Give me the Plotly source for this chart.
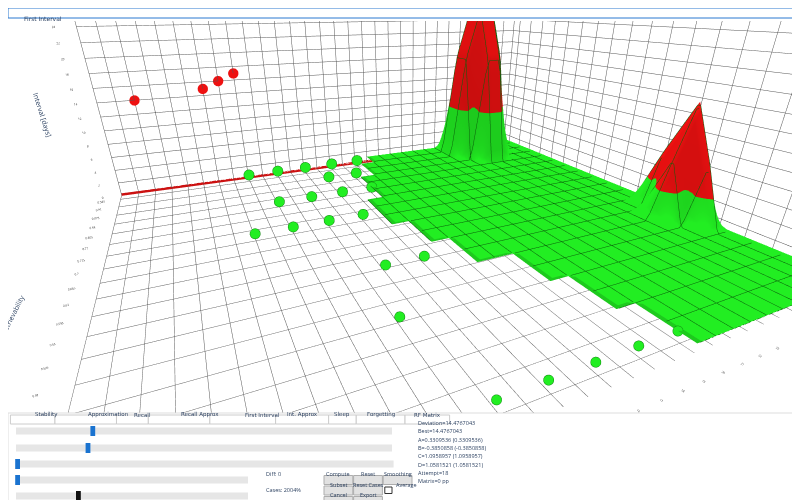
import plotly.graph_objects as go
import numpy as np

# ---- data ----
lapses = list(range(0, 31))
retr = [round(0.30 + 0.035*i, 3) for i in range(20)]
floor_level = 1.0
row_start = [20,20,19,19,18,18,16,16,15,15,14,14,14,14,15,15,15,16,16,17]
peak1 = [(25,17,25.8),(26,17,25.8),(25,18,25.8),(26,18,25.8),(24,17,18),(27,17,18),(25,16,18),(26,16,18),
         (25,19,18),(26,19,18),(24,18,18),(27,18,18)]
peak2 = [(29,6,16),(28,6,9),(30,6,9),(29,5,9),(29,7,9)]
pts_x = [8,10,12,14,16,9,11,13,15,7,9,11,13,4,6,8,10,12,14,16,18,20,12,14,13,15,11]
pts_y = [0.95,0.95,0.95,0.95,0.95,0.8,0.8,0.8,0.8,0.7,0.7,0.7,0.7,0.32,0.32,0.32,0.32,0.32,0.32,0.32,0.32,0.32,0.55,0.55,0.88,0.88,0.45]
pts_z = [1]*27
red_x = [2,6,7,8]
red_y = [0.965]*4
red_z = [14,15,16,17]

Z = np.full((len(retr), len(lapses)), np.nan)
for j, s in enumerate(row_start):
    for i in range(s, len(lapses)):
        Z[j, i] = floor_level
for i, j, z in peak1 + peak2:
    Z[j, i] = z
C = np.where(Z > 8, 1.0, 0.0)

fig = go.Figure()
fig.add_trace(go.Surface(x=lapses, y=retr, z=Z, surfacecolor=C, cmin=0, cmax=1,
    colorscale=[[0, "#22ee22"], [0.5, "#22ee22"], [0.5, "#ee1111"], [1, "#ee1111"]],
    showscale=False, lighting=dict(ambient=0.85, diffuse=0.4, specular=0),
    contours=dict(x=dict(show=True, color="#0a600a", width=1, start=0, end=30, size=1),
                  y=dict(show=True, color="#0a600a", width=1, start=0.3, end=0.965, size=0.035))))
fig.add_trace(go.Scatter3d(x=pts_x, y=pts_y, z=pts_z, mode="markers",
    marker=dict(size=6, color="#22ee22", line=dict(color="#118811", width=1))))
fig.add_trace(go.Scatter3d(x=red_x, y=red_y, z=red_z, mode="markers",
    marker=dict(size=6, color="#ee1111")))
fig.add_trace(go.Scatter3d(x=[0, 30, 30], y=[0.965, 0.965, 0.3], z=[0.1, 0.1, 0.1], mode="lines",
    line=dict(color="#cc1111", width=5)))

ax = dict(showbackground=False, gridcolor="#555", gridwidth=1, showline=False,
          tickfont=dict(size=6, color="#333"), zeroline=False, showspikes=False)
fig.update_layout(
    width=800, height=500, paper_bgcolor="white", margin=dict(l=0, r=0, t=0, b=0), showlegend=False,
    scene=dict(domain=dict(x=[0, 1], y=[0.19, 0.975]),
        xaxis=dict(ax, title=dict(text="Lapses", font=dict(size=7)), range=[0, 30], dtick=1),
        yaxis=dict(ax, title=dict(text="Retrievability", font=dict(size=7)), range=[0.3, 0.965], dtick=0.035),
        zaxis=dict(ax, title=dict(text="Interval [days]", font=dict(size=7)), range=[0, 25.8], dtick=2),
        aspectmode="manual", aspectratio=dict(x=3.0, y=2.6, z=1.1),
        camera=dict(eye=dict(x=-1.0, y=-2.1, z=0.6), center=dict(x=0.1, y=0.3, z=-0.6))))

# window chrome and control panel
fig.add_shape(type="rect", xref="paper", yref="paper", x0=0, x1=1, y0=0.98, y1=1,
              fillcolor="white", line=dict(color="#2b79d0", width=1))
fig.add_annotation(text="First Interval", x=0.018, y=0.99, xref="paper", yref="paper",
                   showarrow=False, xanchor="left", font=dict(size=6, family="DejaVu Sans"))
fig.add_shape(type="rect", xref="paper", yref="paper", x0=0, x1=1, y0=0, y1=0.19,
              fillcolor="white", line=dict(color="#ddd", width=1))
tabs = ["Stability", "Approximation", "Recall", "Recall Approx", "First Interval",
        "Int. Approx", "Sleep", "Forgetting", "RF Matrix"]
x = 0.003
for t in tabs:
    w = len(t) * 0.0053 + 0.008
    fig.add_shape(type="rect", xref="paper", yref="paper", x0=x, x1=x + w, y0=0.168, y1=0.186,
                  fillcolor="white", line=dict(color="#ccc", width=1))
    fig.add_annotation(text=t, x=x + w/2, y=0.177, xref="paper", yref="paper", showarrow=False,
                       font=dict(size=5.5, family="DejaVu Sans"))
    x += w
for yy, x1, knob, col in [(0.154, 0.48, 0.106, "#1a73d0"), (0.12, 0.48, 0.1, "#1a73d0"),
                          (0.088, 0.482, 0.012, "#1a73d0"), (0.056, 0.3, 0.012, "#1a73d0"),
                          (0.024, 0.3, 0.088, "#111")]:
    fig.add_shape(type="rect", xref="paper", yref="paper", x0=0.01, x1=x1, y0=yy-0.007, y1=yy+0.007,
                  fillcolor="#e6e6e6", line=dict(width=0))
    fig.add_shape(type="rect", xref="paper", yref="paper", x0=knob-0.003, x1=knob+0.003, y0=yy-0.01, y1=yy+0.01,
                  fillcolor=col, line=dict(width=0))
fig.add_annotation(text="Diff: 0", x=0.32, y=0.056, xref="paper", yref="paper", showarrow=False, xanchor="left", font=dict(size=5.5))
fig.add_annotation(text="Cases: 2004%", x=0.32, y=0.024, xref="paper", yref="paper", showarrow=False, xanchor="left", font=dict(size=5.5))
btns = [("Compute", 0.413, 0.056), ("Reset", 0.45, 0.056), ("Smoothing", 0.487, 0.056),
        ("Subset", 0.413, 0.035), ("Reset Cases", 0.45, 0.035), ("Cancel", 0.413, 0.014), ("Export", 0.45, 0.014)]
for t, cx, cy in btns:
    fig.add_shape(type="rect", xref="paper", yref="paper", x0=cx-0.018, x1=cx+0.018, y0=cy-0.009, y1=cy+0.009,
                  fillcolor="#e1e1e1", line=dict(color="#adadad", width=1))
    fig.add_annotation(text=t, x=cx, y=cy, xref="paper", yref="paper", showarrow=False, font=dict(size=5.5))
fig.add_shape(type="rect", xref="paper", yref="paper", x0=0.471, x1=0.48, y0=0.029, y1=0.042,
              fillcolor="white", line=dict(color="#333", width=1))
fig.add_annotation(text="Average", x=0.482, y=0.035, xref="paper", yref="paper", showarrow=False, xanchor="left", font=dict(size=5.5))
stats = ["Deviation=14.4767043", "Best=14.4767043", "A=0.3309536 (0.3309536)", "B=-0.3850858 (-0.3850858)",
         "C=1.0958957 (1.0958957)", "D=1.0581521 (1.0581521)", "Attempt=18", "Matrix=0 pp"]
for k, s in enumerate(stats):
    fig.add_annotation(text=s, x=0.51, y=0.158 - k*0.0166, xref="paper", yref="paper", showarrow=False,
                       xanchor="left", font=dict(size=5.5))
fig.write_html("out.html")
